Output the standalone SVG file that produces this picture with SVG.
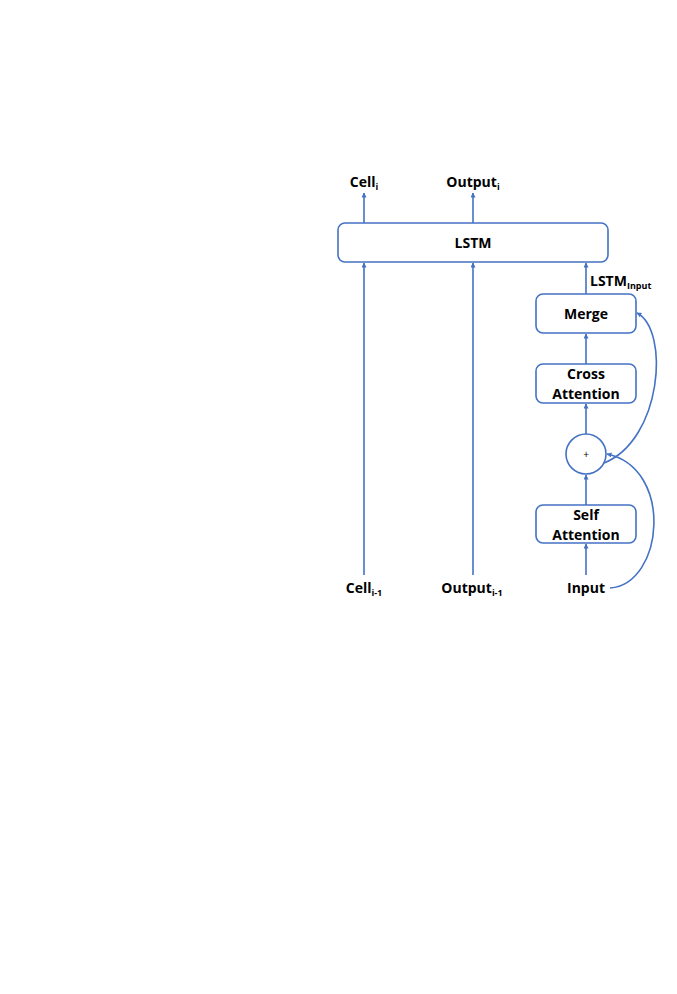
<svg xmlns="http://www.w3.org/2000/svg" width="677" height="994" viewBox="0 0 677 994">
<defs>
<style>
.box{fill:#fff;stroke:#4472C4;stroke-width:1.6}
.ln{fill:none;stroke:#4472C4;stroke-width:1.6}
text{font-family:"Open Sans","Liberation Sans",sans-serif;font-weight:bold;font-size:14px;fill:#000}
.sub{font-size:9px}
</style>
<marker id="ah" viewBox="0 0 10 10" refX="9" refY="5" markerWidth="5" markerHeight="5" orient="auto" markerUnits="userSpaceOnUse">
<path d="M0,0 L10,5 L0,10 z" fill="#4472C4"/>
</marker>
</defs>
<rect width="677" height="994" fill="#fff"/>
<g id="connectors">
<line class="ln" x1="364" y1="223" x2="364" y2="193" marker-end="url(#ah)"/>
<line class="ln" x1="473" y1="223" x2="473" y2="193" marker-end="url(#ah)"/>
<line class="ln" x1="364" y1="575" x2="364" y2="263" marker-end="url(#ah)"/>
<line class="ln" x1="473" y1="575" x2="473" y2="263" marker-end="url(#ah)"/>
<line class="ln" x1="586" y1="294" x2="586" y2="263" marker-end="url(#ah)"/>
<line class="ln" x1="586" y1="364" x2="586" y2="334" marker-end="url(#ah)"/>
<line class="ln" x1="586" y1="434" x2="586" y2="404" marker-end="url(#ah)"/>
<line class="ln" x1="586" y1="505" x2="586" y2="475" marker-end="url(#ah)"/>
<line class="ln" x1="586" y1="575" x2="586" y2="544" marker-end="url(#ah)"/>
<path class="ln" d="M610 588 C664 584 674 468 607 454" marker-end="url(#ah)"/>
<path class="ln" d="M604 463 C662 440 670 330 637 313" marker-end="url(#ah)"/>
</g>
<g id="lstm">
<rect class="box" x="338" y="223" width="270" height="39" rx="7"/>
<text x="473" y="248" text-anchor="middle">LSTM</text>
</g>
<g id="merge">
<rect class="box" x="536" y="294" width="100" height="39" rx="7"/>
<text x="586" y="319" text-anchor="middle">Merge</text>
</g>
<g id="cross-attention">
<rect class="box" x="536" y="364" width="100" height="39" rx="7"/>
<text x="586" y="379" text-anchor="middle">Cross</text>
<text x="586" y="399" text-anchor="middle">Attention</text>
</g>
<g id="plus">
<circle class="box" cx="586" cy="454" r="20"/>
<text x="586" y="458" text-anchor="middle" style="font-size:10px;font-weight:normal">+</text>
</g>
<g id="self-attention">
<rect class="box" x="536" y="505" width="100" height="38" rx="7"/>
<text x="586" y="520" text-anchor="middle">Self</text>
<text x="586" y="540" text-anchor="middle">Attention</text>
</g>
<g id="labels">
<text x="364" y="187" text-anchor="middle">Cell<tspan class="sub" dy="3">i</tspan></text>
<text x="473" y="187" text-anchor="middle">Output<tspan class="sub" dy="3">i</tspan></text>
<text x="590" y="286">LSTM<tspan class="sub" dy="3">Input</tspan></text>
<text x="364" y="593" text-anchor="middle">Cell<tspan class="sub" dy="3">i-1</tspan></text>
<text x="472" y="593" text-anchor="middle">Output<tspan class="sub" dy="3">i-1</tspan></text>
<text x="586" y="593" text-anchor="middle">Input</text>
</g>
</svg>
